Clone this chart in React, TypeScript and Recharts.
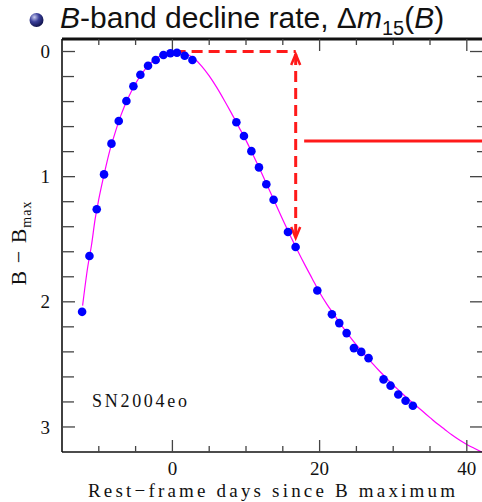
import { ComposedChart, XAxis, YAxis, Scatter, Line, ReferenceLine } from "recharts";

// observed B-band photometry, SN2004eo (days since B max, B - Bmax)
const DAYS = [
  -12.27, -11.27, -10.28, -9.29, -8.28, -7.29, -6.25, -5.3, -4.35, -3.31, -2.27, -1.22,
  -0.27, 0.62, 1.67, 2.72, 8.69, 9.72, 10.73, 11.76, 12.76, 13.75, 15.7, 16.74, 19.69,
  21.67, 22.67, 23.67, 24.66, 25.66, 26.65, 28.69, 29.64, 30.69, 31.68, 32.67,
];
const MAGS = [
  2.08, 1.634, 1.26, 0.982, 0.736, 0.555, 0.395, 0.277, 0.186, 0.114, 0.068, 0.028,
  0.014, 0.01, 0.034, 0.068, 0.565, 0.675, 0.796, 0.926, 1.06, 1.185, 1.442, 1.562, 1.91,
  2.1, 2.17, 2.25, 2.37, 2.4, 2.45, 2.62, 2.67, 2.74, 2.79, 2.83,
];

// template fit curve
const FIT_DAYS = [
  -12.2, -11.5, -11, -10.5, -10, -9.5, -9, -8.5, -8, -7, -6, -5, -4, -3, -2, -1, 0, 0.5, 1,
  2, 3, 4, 5, 6, 7, 8, 9, 10, 11, 12, 13, 14, 15, 16, 17, 18, 19, 20, 21, 22, 23, 24, 25,
  26, 27, 28, 29, 30, 31, 32, 33, 34, 35, 36, 37, 38, 39, 40, 41, 42.2,
];
const FIT_MAGS = [
  2.03, 1.72, 1.55, 1.34, 1.18, 1.04, 0.91, 0.79, 0.69, 0.51, 0.37, 0.255, 0.165, 0.095,
  0.047, 0.015, 0.001, 0, 0.004, 0.022, 0.058, 0.118, 0.195, 0.285, 0.385, 0.49, 0.6, 0.71,
  0.83, 0.955, 1.085, 1.215, 1.345, 1.47, 1.59, 1.705, 1.815, 1.925, 2.02, 2.105, 2.19,
  2.27, 2.345, 2.415, 2.48, 2.545, 2.605, 2.665, 2.72, 2.775, 2.825, 2.875, 2.925, 2.975,
  3.02, 3.065, 3.105, 3.14, 3.17, 3.205,
];

// decline-rate annotation
const PEAK_DAY = 0.3;
const DAY_15 = 16.75;
const DM15 = 1.49;
const POINTER = [17.9, 42.2];
const POINTER_MAG = 0.715;

const X_DOMAIN = [-15, 42.2];
const Y_DOMAIN = [-0.1, 3.2];
const X_TICKS = [-10, -5, 0, 5, 10, 15, 20, 25, 30, 35, 40];
const X_LABELLED = [0, 20, 40];
const Y_TICKS = [0, 0.2, 0.4, 0.6, 0.8, 1, 1.2, 1.4, 1.6, 1.8, 2, 2.2, 2.4, 2.6, 2.8, 3];
const Y_LABELLED = [0, 1, 2, 3];

// frame tick lengths in axis units (top ticks in mag, right ticks in days)
const TOP_TICK = { major: 0.096, minor: 0.048 };
const RIGHT_TICK = { major: 1.77, minor: 0.82 };

const points = DAYS.map((d, i) => ({ x: d, y: MAGS[i] }));
const fit = FIT_DAYS.map((d, i) => ({ x: d, y: FIT_MAGS[i] }));

const AXIS = "#111";
const TICK = "#444";
const SERIF = "'Liberation Serif', 'DejaVu Serif', serif";
const RED = "#ff1a1a";

function BottomTick({ x, y, payload }: any) {
  const major = X_LABELLED.includes(payload.value);
  return (
    <g>
      <line x1={x} x2={x} y1={y} y2={y - (major ? 12 : 6)} stroke={TICK} strokeWidth={1.3} />
      {major && (
        <text x={x} y={y + 23} textAnchor="middle" fontFamily={SERIF} fontSize={19} fill="#111">
          {payload.value}
        </text>
      )}
    </g>
  );
}

function LeftTick({ x, y, payload }: any) {
  const major = Y_LABELLED.includes(payload.value);
  return (
    <g>
      <line x1={x} x2={x + (major ? 13 : 12)} y1={y} y2={y} stroke={TICK} strokeWidth={1.3} />
      {major && (
        <text x={50} y={y} dy="0.35em" textAnchor="end" fontFamily={SERIF} fontSize={19} fill="#111">
          {payload.value}
        </text>
      )}
    </g>
  );
}

function DoubleArrow(props: any) {
  const { x1, y1, x2, y2 } = props;
  return (
    <g>
      <line x1={x1} y1={y1} x2={x2} y2={y2} stroke={RED} strokeWidth={3} strokeDasharray="11 6" />
      <polyline points={`${x1 - 4.5},${y1 + 11} ${x1},${y1} ${x1 + 4.5},${y1 + 11}`} fill="none" stroke={RED} strokeWidth={2.5} />
      <polyline points={`${x2 - 4.5},${y2 - 11} ${x2},${y2} ${x2 + 4.5},${y2 - 11}`} fill="none" stroke={RED} strokeWidth={2.5} />
    </g>
  );
}

export default function App() {
  const [x0, x1] = X_DOMAIN;
  const [y0] = Y_DOMAIN;
  return (
    <div style={{ position: "absolute", left: 0, top: 0, width: 482, height: 502, overflow: "hidden", background: "#fff" }}>
      <ComposedChart
        width={490}
        height={502}
        margin={{ top: 39, right: 7, bottom: 0, left: 0 }}
      >
        <XAxis
          type="number"
          dataKey="x"
          domain={X_DOMAIN}
          ticks={X_TICKS}
          interval={0}
          allowDataOverflow
          height={50}
          tickSize={0}
          tickMargin={0}
          tick={BottomTick}
          axisLine={{ stroke: AXIS, strokeWidth: 1.6 }}
        />
        <YAxis
          type="number"
          reversed
          domain={Y_DOMAIN}
          ticks={Y_TICKS}
          interval={0}
          allowDataOverflow
          width={62}
          tickSize={0}
          tickMargin={0}
          tick={LeftTick}
          axisLine={{ stroke: AXIS, strokeWidth: 1.6 }}
        />
        {/* top frame with inward ticks (half the stroke is clipped by the plot area) */}
        <ReferenceLine
          segment={[{ x: x0, y: y0 }, { x: x1, y: y0 }]}
          stroke={AXIS}
          strokeWidth={3.2}
        />
        {X_TICKS.map((t) => (
          <ReferenceLine
            key={`tx${t}`}
            segment={[
              { x: t, y: y0 },
              { x: t, y: y0 + (X_LABELLED.includes(t) ? TOP_TICK.major : TOP_TICK.minor) },
            ]}
            stroke={TICK}
            strokeWidth={1.3}
          />
        ))}
        {/* right frame ticks (frame line itself sits just past the window edge) */}
        {Y_TICKS.map((t) => (
          <ReferenceLine
            key={`ry${t}`}
            segment={[
              { x: x1 - (Y_LABELLED.includes(t) ? RIGHT_TICK.major : RIGHT_TICK.minor), y: t },
              { x: x1, y: t },
            ]}
            stroke={TICK}
            strokeWidth={1.3}
          />
        ))}
        <Line
          data={fit}
          dataKey="y"
          type="monotone"
          stroke="#ff00ff"
          strokeWidth={1.2}
          dot={false}
          isAnimationActive={false}
        />
        <ReferenceLine
          segment={[{ x: PEAK_DAY, y: 0 }, { x: DAY_15, y: 0 }]}
          stroke={RED}
          strokeWidth={3}
          strokeDasharray="11 6"
        />
        <ReferenceLine
          segment={[{ x: DAY_15, y: 0.02 }, { x: DAY_15, y: DM15 }]}
          shape={DoubleArrow}
        />
        <ReferenceLine
          segment={[{ x: POINTER[0], y: POINTER_MAG }, { x: POINTER[1], y: POINTER_MAG }]}
          stroke={RED}
          strokeWidth={3}
        />
        <Scatter
          data={points}
          dataKey="y"
          fill="#0000ff"
          shape={(p: any) => <circle cx={p.cx} cy={p.cy} r={4.3} fill="#0000ff" />}
          isAnimationActive={false}
        />
      </ComposedChart>
      <svg
        width={482}
        height={502}
        style={{ position: "absolute", left: 0, top: 0, pointerEvents: "none" }}
      >
        <defs>
          <radialGradient id="ball" cx="0.35" cy="0.3" r="0.75">
            <stop offset="0" stopColor="#c8cbf0" />
            <stop offset="0.45" stopColor="#3a3f9a" />
            <stop offset="1" stopColor="#0c0f45" />
          </radialGradient>
        </defs>
        <circle cx={36.5} cy={20} r={7} fill="url(#ball)" />
        <text x={60} y={28} fontFamily="'Liberation Sans', Arial, sans-serif" fontSize={30} fill="#111">
          <tspan fontStyle="italic">B</tspan>
          <tspan>-band decline rate, Δ</tspan>
          <tspan fontStyle="italic">m</tspan>
          <tspan fontSize={20} dy={7}>15</tspan>
          <tspan dy={-7}>(</tspan>
          <tspan fontStyle="italic">B</tspan>
          <tspan>)</tspan>
        </text>
        <text x={139.5} y={407} textAnchor="middle" fontFamily={SERIF} fontSize={18} fill="#111" textLength={95} lengthAdjust="spacing">
          SN2004eo
        </text>
        <text x={271.5} y={497} textAnchor="middle" fontFamily={SERIF} fontSize={19} fill="#111" textLength={367} lengthAdjust="spacing">
          Rest−frame days since B maximum
        </text>
        <text transform="translate(26,243) rotate(-90)" textAnchor="middle" fontFamily={SERIF} fontSize={22} letterSpacing={1} fill="#111">
          <tspan>B − B</tspan>
          <tspan fontSize={14} dy={5}>max</tspan>
        </text>
      </svg>
    </div>
  );
}
